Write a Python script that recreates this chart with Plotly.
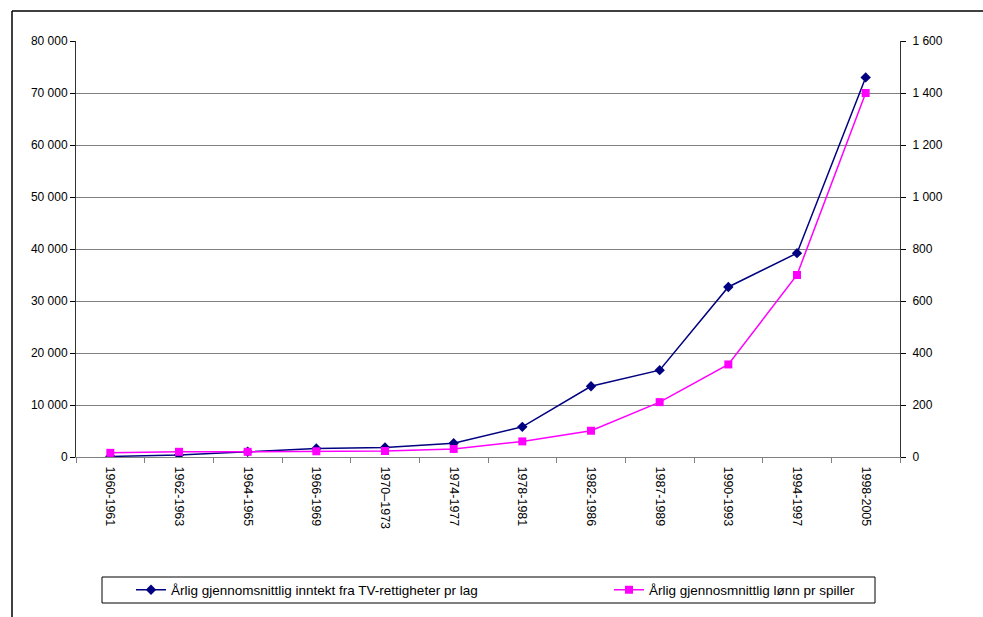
import plotly.graph_objects as go

periods = ["1960-1961", "1962-1963", "1964-1965", "1966-1969", "1970\u20131973",
           "1974-1977", "1978-1981", "1982-1986", "1987-1989", "1990-1993",
           "1994-1997", "1998-2005"]
tv_income = [100, 400, 1000, 1650, 1850, 2650, 5800, 13600, 16700, 32700, 39200, 73000]
salary = [16, 20, 20, 22, 23, 31, 60, 101, 211, 356, 700, 1400]

name_tv = "Årlig gjennomsnittlig inntekt fra TV-rettigheter pr lag"
name_sal = "Årlig gjennosmnittlig lønn pr spiller"

W, H = 983, 617
L, R, T, B = 76, 83, 41, 160
pw, ph = W - L - R, H - T - B

def px_x(p):
    return (p - L) / pw

def px_y(p):
    return (H - B - p) / ph

FAM = "Liberation Sans, Arial, sans-serif"
font = dict(family=FAM, size=12, color="#000000")
xfont = dict(family=FAM, size=12.5, color="#000000")
legfont = dict(family=FAM, size=13.5, color="#000000")

fig = go.Figure()
fig.add_trace(go.Scatter(
    x=periods, y=tv_income, name=name_tv, mode="lines+markers",
    line=dict(color="#000080", width=1.5),
    marker=dict(symbol="diamond", size=8, color="#000080"),
    yaxis="y", legend="legend"))
fig.add_trace(go.Scatter(
    x=periods, y=salary, name=name_sal, mode="lines+markers",
    line=dict(color="#FF00FF", width=1.5),
    marker=dict(symbol="square", size=8, color="#FF00FF"),
    yaxis="y2", legend="legend2"))

legend_common = dict(orientation="h", xanchor="left", yanchor="middle",
                     bgcolor="rgba(0,0,0,0)", borderwidth=0, y=px_y(590), font=legfont)

fig.update_layout(
    width=W, height=H,
    margin=dict(l=L, r=R, t=T, b=B, pad=0, autoexpand=False),
    paper_bgcolor="white", plot_bgcolor="white",
    font=font,
    separators=", ",
    showlegend=True,
    legend=dict(x=px_x(131), **legend_common),
    legend2=dict(x=px_x(609), **legend_common),
    xaxis=dict(type="category", tickson="boundaries", ticks="outside", ticklen=5,
               tickcolor="#808080", tickangle=90, showline=True, linecolor="#808080",
               linewidth=1, showgrid=False, zeroline=False, range=[-0.5, 11.5],
               tickfont=xfont, automargin=False, ticklabelstandoff=6),
    yaxis=dict(range=[0, 80000], dtick=10000, tickformat=",d", ticks="outside", ticklen=5,
               tickcolor="#000", showline=True, linecolor="#333", linewidth=1,
               showgrid=True, gridcolor="#808080", gridwidth=1, zeroline=False,
               tickfont=font, automargin=False),
    yaxis2=dict(range=[0, 1600], dtick=200, tickformat=",d", overlaying="y", side="right",
                ticks="outside", ticklen=5, tickcolor="#000", showline=True,
                linecolor="#333", linewidth=1, showgrid=False, zeroline=False,
                tickfont=font, automargin=False, ticklabelstandoff=4),
    shapes=[
        dict(type="line", xref="paper", yref="paper", x0=px_x(12), x1=px_x(983),
             y0=px_y(11), y1=px_y(11), line=dict(color="#000", width=1.5)),
        dict(type="line", xref="paper", yref="paper", x0=px_x(12), x1=px_x(12),
             y0=px_y(11), y1=px_y(620), line=dict(color="#000", width=1.5)),
        dict(type="rect", xref="paper", yref="paper", x0=px_x(102), x1=px_x(875),
             y0=px_y(577), y1=px_y(603), line=dict(color="#000", width=1)),
    ],
)

fig.write_html("out.html")
